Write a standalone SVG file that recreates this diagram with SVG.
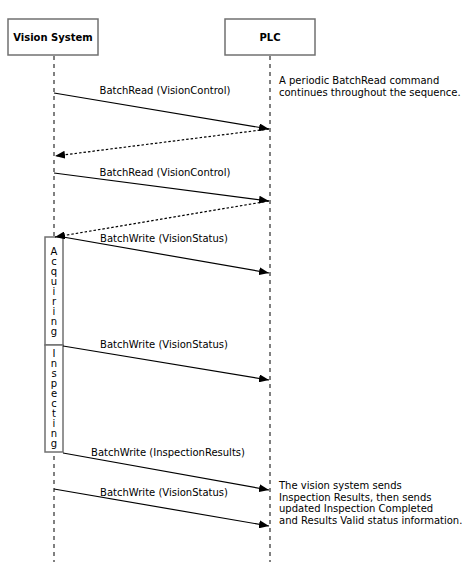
<svg xmlns="http://www.w3.org/2000/svg" width="472" height="568" viewBox="0 0 472 568">
<style>
text{font-family:"DejaVu Sans",Verdana,sans-serif;font-size:10px;fill:#000}
.title{font-weight:bold;text-anchor:middle}
.lbl{text-anchor:middle}
.actor{fill:#fff;stroke:#707070;stroke-width:1.5}
.life{stroke:#808080;stroke-width:2;stroke-dasharray:4 4;fill:none}
.msg{stroke:#000;stroke-width:1.2;fill:none}
.ret{stroke:#000;stroke-width:1.2;stroke-dasharray:2.5 2;fill:none}
.act{fill:#fff;stroke:#707070;stroke-width:1.5}
.vl{text-anchor:middle}
</style>
<defs>
<marker id="ah" viewBox="0 0 10 8" refX="10" refY="4" markerWidth="10" markerHeight="8" markerUnits="userSpaceOnUse" orient="auto">
<path d="M0,0 L10,4 L0,8 Z" fill="#000"/>
</marker>
</defs>
<g id="lifelines">
<line class="life" x1="54" y1="56" x2="54" y2="237"/>
<line class="life" x1="54" y1="456" x2="54" y2="562"/>
<line class="life" x1="270" y1="56" x2="270" y2="562"/>
</g>
<g id="vision-system">
<rect class="actor" x="8" y="19" width="90" height="36"/>
<text class="title" x="53" y="40.5">Vision System</text>
</g>
<g id="plc">
<rect class="actor" x="225" y="19" width="90" height="36"/>
<text class="title" x="270" y="40.5">PLC</text>
</g>
<g id="activation-acquiring">
<rect class="act" x="45" y="237" width="18" height="108"/>
<text class="vl" x="54" y="255">A</text>
<text class="vl" x="54" y="265">c</text>
<text class="vl" x="54" y="275">q</text>
<text class="vl" x="54" y="285">u</text>
<text class="vl" x="54" y="295">i</text>
<text class="vl" x="54" y="305">r</text>
<text class="vl" x="54" y="315">i</text>
<text class="vl" x="54" y="325">n</text>
<text class="vl" x="54" y="335">g</text>
</g>
<g id="activation-inspecting">
<rect class="act" x="45" y="345" width="18" height="107"/>
<text class="vl" x="54" y="357">I</text>
<text class="vl" x="54" y="367">n</text>
<text class="vl" x="54" y="377">s</text>
<text class="vl" x="54" y="387">p</text>
<text class="vl" x="54" y="397">e</text>
<text class="vl" x="54" y="407">c</text>
<text class="vl" x="54" y="417">t</text>
<text class="vl" x="54" y="427">i</text>
<text class="vl" x="54" y="437">n</text>
<text class="vl" x="54" y="447">g</text>
</g>
<g id="connectors">
<line class="msg" x1="54" y1="93" x2="269" y2="129" marker-end="url(#ah)"/>
<line class="ret" x1="269" y1="129" x2="55" y2="156" marker-end="url(#ah)"/>
<line class="msg" x1="54" y1="173" x2="269" y2="201" marker-end="url(#ah)"/>
<line class="ret" x1="269" y1="201" x2="55" y2="237" marker-end="url(#ah)"/>
<line class="msg" x1="63" y1="237" x2="269" y2="273" marker-end="url(#ah)"/>
<line class="msg" x1="63" y1="346" x2="269" y2="380" marker-end="url(#ah)"/>
<line class="msg" x1="63" y1="453" x2="269" y2="490" marker-end="url(#ah)"/>
<line class="msg" x1="54" y1="489" x2="269" y2="526" marker-end="url(#ah)"/>
</g>
<g id="labels">
<text class="lbl" x="165" y="94">BatchRead (VisionControl)</text>
<text class="lbl" x="165" y="176">BatchRead (VisionControl)</text>
<text class="lbl" x="164" y="242">BatchWrite (VisionStatus)</text>
<text class="lbl" x="164" y="348">BatchWrite (VisionStatus)</text>
<text class="lbl" x="168" y="456">BatchWrite (InspectionResults)</text>
<text class="lbl" x="164" y="496">BatchWrite (VisionStatus)</text>
</g>
<g id="note-periodic">
<text x="279" y="84">A periodic BatchRead command</text>
<text x="279" y="95.5">continues throughout the sequence.</text>
</g>
<g id="note-results">
<text x="279" y="489">The vision system sends</text>
<text x="279" y="500.5">Inspection Results, then sends</text>
<text x="279" y="512">updated Inspection Completed</text>
<text x="279" y="523.5">and Results Valid status information.</text>
</g>
</svg>
